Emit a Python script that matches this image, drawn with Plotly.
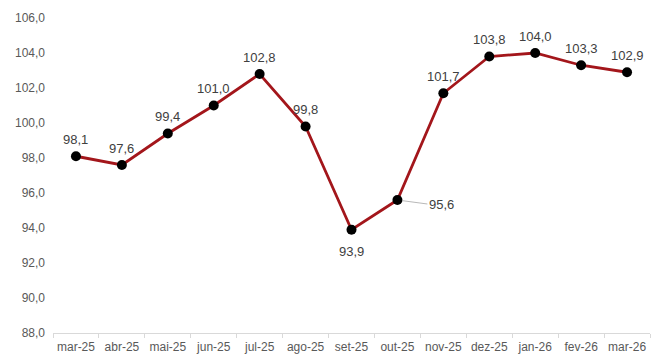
import plotly.graph_objects as go

categories = ["mar-25", "abr-25", "mai-25", "jun-25", "jul-25", "ago-25", "set-25",
              "out-25", "nov-25", "dez-25", "jan-26", "fev-26", "mar-26"]
values = [98.1, 97.6, 99.4, 101.0, 102.8, 99.8, 93.9, 95.6, 101.7, 103.8, 104.0, 103.3, 102.9]
y_ticks = [88, 90, 92, 94, 96, 98, 100, 102, 104, 106]

def fmt(v):
    return f"{v:.1f}".replace(".", ",")

FONT = "Liberation Sans, Arial"
LBL = dict(family=FONT, size=13, color="#404040")

fig = go.Figure()
fig.add_trace(go.Scatter(
    x=categories, y=values, mode="lines+markers",
    line=dict(color="#A3161B", width=2.8),
    marker=dict(color="#000000", size=10),
    hoverinfo="skip", showlegend=False,
))

annotations = []
for c, v in zip(categories, values):
    if c == "set-25":
        annotations.append(dict(x=c, y=v, text=fmt(v), showarrow=False, yshift=-22, font=LBL))
    elif c == "out-25":
        annotations.append(dict(x=c, y=v, text=fmt(v), showarrow=True, arrowhead=0,
                                arrowwidth=0.8, arrowcolor="#a6a6a6", ax=30, ay=4,
                                xanchor="left", standoff=5, font=LBL))
    else:
        annotations.append(dict(x=c, y=v, text=fmt(v), showarrow=False, yshift=17, font=LBL))

fig.update_layout(
    width=668, height=354,
    margin=dict(l=53, r=18, t=18, b=21),
    paper_bgcolor="white", plot_bgcolor="white",
    font=dict(family=FONT, size=12, color="#595959"),
    annotations=annotations,
    xaxis=dict(
        type="category", range=[-0.5, len(categories) - 0.5], automargin=False,
        showgrid=False, showline=True, linecolor="#d9d9d9", linewidth=1,
        ticks="outside", tickson="boundaries", ticklen=4, tickcolor="#d9d9d9",
        tickfont=dict(family=FONT, size=12, color="#595959"), zeroline=False,
        ticklabelstandoff=3, tickangle=0,
    ),
    yaxis=dict(
        range=[88, 106], tickvals=y_ticks, ticktext=[fmt(t) for t in y_ticks],
        showgrid=False, showline=False, zeroline=False, ticks="", automargin=False,
        ticklabelstandoff=7,
        tickfont=dict(family=FONT, size=12, color="#595959"),
    ),
)

fig.write_html("out.html")
